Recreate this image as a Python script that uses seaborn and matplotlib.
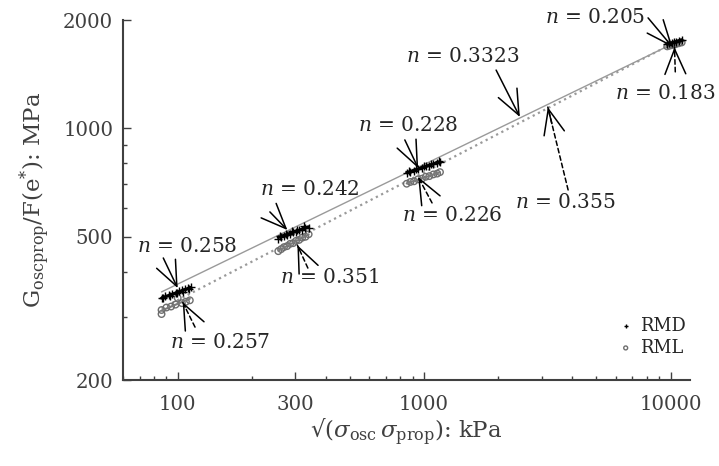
import numpy as np
import pandas as pd
import matplotlib
matplotlib.use("Agg")
import matplotlib.pyplot as plt
import seaborn as sns
from matplotlib.ticker import FixedLocator, LogLocator, NullFormatter

# ---------------- data ----------------
rmd_x = [86, 89, 92, 95, 98, 101, 104, 107, 110, 113,
         87.5, 93.5, 99.5, 105.5, 111.5,
         256, 263, 270, 278, 286, 294, 302, 311, 320, 330, 340,
         260, 274, 290, 306, 325,
         850, 880, 910, 945, 980, 1015, 1050, 1090, 1130, 1160,
         865, 925, 995, 1070, 1145,
         9700, 9900, 10100, 10300, 10500, 10800, 11100]
rmd_y = [339, 342, 345, 347, 350, 353, 355, 358, 361, 363,
         337, 343, 348, 352, 358,
         494, 500, 502, 507, 508, 514, 515, 521, 522, 528, 530,
         504, 510, 518, 523, 534,
         750, 758, 762, 771, 775, 784, 787, 796, 800, 808,
         762, 771, 784, 797, 811,
         1713, 1722, 1728, 1736, 1741, 1753, 1761]
rml_x = [86, 86, 90, 94, 98, 100, 104, 108, 112,
         256, 263, 270, 278, 286, 294, 302, 311, 320, 330, 340,
         850, 880, 910, 945, 980, 1015, 1050, 1090, 1130, 1160,
         9700, 9900, 10100, 10300, 10500, 10800, 11100]
rml_y = [305, 313, 318, 320, 324, 338, 327, 330, 333,
         456, 462, 468, 471, 478, 480, 487, 490, 497, 500, 508,
         702, 710, 713, 722, 725, 734, 737, 745, 749, 756,
         1690, 1697, 1703, 1710, 1714, 1724, 1733]
cluster_bounds = [(80, 120), (250, 350), (800, 1200), (9000, 12000)]

# global power-law fits: exponent and value at 1000 kPa
fit_n = {"RMD": 0.3323, "RML": 0.355}
fit_g1000 = {"RMD": 794, "RML": 755}
fit_range = (86, 11100)

x_ticks = [100, 300, 1000, 10000]
x_ticklabels = ["100", "300", "1000", "10000"]
y_ticks = [200, 500, 1000, 2000]
y_ticklabels = ["200", "500", "1000", "2000"]

# annotations: label, text pos (axes fraction), arrow tail (axes fraction), arrow head (data), dashed?
ann_labels = ["0.258", "0.257", "0.242", "0.351", "0.228", "0.226",
              "0.3323", "0.355", "0.205", "0.183"]
ann_text = [(0.113, 0.372), (0.171, 0.103), (0.330, 0.528), (0.365, 0.286), (0.503, 0.706),
            (0.580, 0.458), (0.600, 0.900), (0.781, 0.492), (0.832, 1.008), (0.956, 0.797)]
ann_tail = [(0.071, 0.339), (0.127, 0.147), (0.259, 0.467), (0.326, 0.311), (0.497, 0.667),
            (0.545, 0.492), (0.658, 0.861), (0.785, 0.528), (0.926, 1.006), (0.974, 0.856)]
ann_head = [(100, 360), (104.8, 329), (278.8, 522), (306, 474), (946, 776),
            (946, 733), (2447, 1076), (3177, 1146), (10190, 1682), (10380, 1682)]
ann_dashed = [False, True, False, True, False, True, False, True, False, True]

# ---------------- style ----------------
sns.set_theme(style="ticks")
plt.rcParams["font.family"] = ["DejaVu Serif"]
plt.rcParams["mathtext.fontset"] = "dejavuserif"
axis_col = "#404040"

fig = plt.figure(figsize=(7.19, 4.66), dpi=100)
ax = fig.add_axes([0.1711, 0.1845, 0.7886, 0.7725])
ax.set_xscale("log")
ax.set_yscale("log")
ax.set_xlim(60, 12000)
ax.set_ylim(200, 2000)

# global fit lines
for key, ls, lw in [("RMD", "-", 1.0), ("RML", ":", 1.6)]:
    xs = np.array(fit_range, dtype=float)
    ys = fit_g1000[key] * (xs / 1000.0) ** fit_n[key]
    sns.lineplot(x=xs, y=ys, ax=ax, color="#9a9a9a", lw=lw, linestyle=ls, zorder=1)

# local fits per cluster
def local_fits(xv, yv, color, lw):
    xv = np.asarray(xv, float); yv = np.asarray(yv, float)
    for lo, hi in cluster_bounds:
        m = (xv >= lo) & (xv <= hi)
        p = np.polyfit(np.log10(xv[m]), np.log10(yv[m]), 1)
        xs = np.array([xv[m].min(), xv[m].max()])
        ys = 10 ** np.polyval(p, np.log10(xs))
        sns.lineplot(x=xs, y=ys, ax=ax, color=color, lw=lw, zorder=3)

df_rmd = pd.DataFrame({"x": rmd_x, "y": rmd_y})
df_rml = pd.DataFrame({"x": rml_x, "y": rml_y})

sns.scatterplot(data=df_rml, x="x", y="y", ax=ax, marker="o", s=22,
                facecolor="none", edgecolor="#6e6e6e", linewidth=1.0, zorder=2, label="RML")
local_fits(rml_x, rml_y, "#7a7a7a", 1.5)
sns.scatterplot(data=df_rmd, x="x", y="y", ax=ax, marker="+", s=28,
                color="black", linewidth=1.0, zorder=4, label="RMD")
local_fits(rmd_x, rmd_y, "black", 2.2)

# annotations
head_style = "->,head_length=1.2,head_width=0.5"
for lab, tp, tl, hd, dsh in zip(ann_labels, ann_text, ann_tail, ann_head, ann_dashed):
    ax.text(tp[0], tp[1], r"$n$ = %s" % lab, transform=ax.transAxes, fontsize=14.5,
            ha="center", va="center", zorder=6, clip_on=False)
    if dsh:
        ax.annotate("", xy=hd, xycoords="data", xytext=tl, textcoords="axes fraction",
                    arrowprops=dict(arrowstyle="-", lw=1.1, linestyle=(0, (3, 2)), color="black",
                                    shrinkA=0, shrinkB=0), zorder=5, annotation_clip=False)
        # solid head drawn on a short final segment
        hd_ax = ax.transAxes.inverted().transform(ax.transData.transform(hd))
        mid = (0.8 * hd_ax[0] + 0.2 * tl[0], 0.8 * hd_ax[1] + 0.2 * tl[1])
        ax.annotate("", xy=hd, xycoords="data", xytext=mid, textcoords="axes fraction",
                    arrowprops=dict(arrowstyle=head_style, lw=1.1, color="black", mutation_scale=15,
                                    shrinkA=0, shrinkB=0, linestyle="-"), zorder=5,
                    annotation_clip=False)
    else:
        ax.annotate("", xy=hd, xycoords="data", xytext=tl, textcoords="axes fraction",
                    arrowprops=dict(arrowstyle=head_style, lw=1.1, color="black", mutation_scale=15,
                                    shrinkA=0, shrinkB=0), zorder=5, annotation_clip=False)

# axes
ax.xaxis.set_major_locator(FixedLocator(x_ticks))
ax.set_xticklabels(x_ticklabels)
ax.yaxis.set_major_locator(FixedLocator(y_ticks))
ax.set_yticklabels(y_ticklabels)
ax.xaxis.set_minor_locator(LogLocator(base=10, subs=np.arange(2, 10)))
ax.yaxis.set_minor_locator(LogLocator(base=10, subs=np.arange(2, 10)))
ax.xaxis.set_minor_formatter(NullFormatter())
ax.yaxis.set_minor_formatter(NullFormatter())
ax.tick_params(which="both", direction="in", colors=axis_col, labelsize=14.2, width=1.0)
ax.tick_params(which="major", length=6)
ax.tick_params(axis="x", which="major", pad=11)
ax.tick_params(axis="y", which="major", pad=7)
ax.tick_params(which="minor", length=3)
for s in ["top", "right"]:
    ax.spines[s].set_visible(False)
for s in ["left", "bottom"]:
    ax.spines[s].set_color(axis_col)
    ax.spines[s].set_linewidth(1.5)

ax.set_xlabel("\u221a" + r"$(\sigma_{\mathrm{osc}}\,\sigma_{\mathrm{prop}})$: kPa",
              fontsize=16.5, color=axis_col, labelpad=2)
ax.set_ylabel(r"$\mathrm{G_{oscprop}/F(e^{*})}$: MPa", fontsize=16.5, color=axis_col, labelpad=8)

handles, labels = ax.get_legend_handles_labels()
order = [labels.index("RMD"), labels.index("RML")]
ax.legend([handles[i] for i in order], [labels[i] for i in order], loc="center",
          frameon=False, fontsize=12.8, handletextpad=0.2, handlelength=1.2,
          bbox_to_anchor=(0.93, 0.12), markerscale=0.6, labelspacing=0.2)

fig.savefig("out.png", dpi=100)
